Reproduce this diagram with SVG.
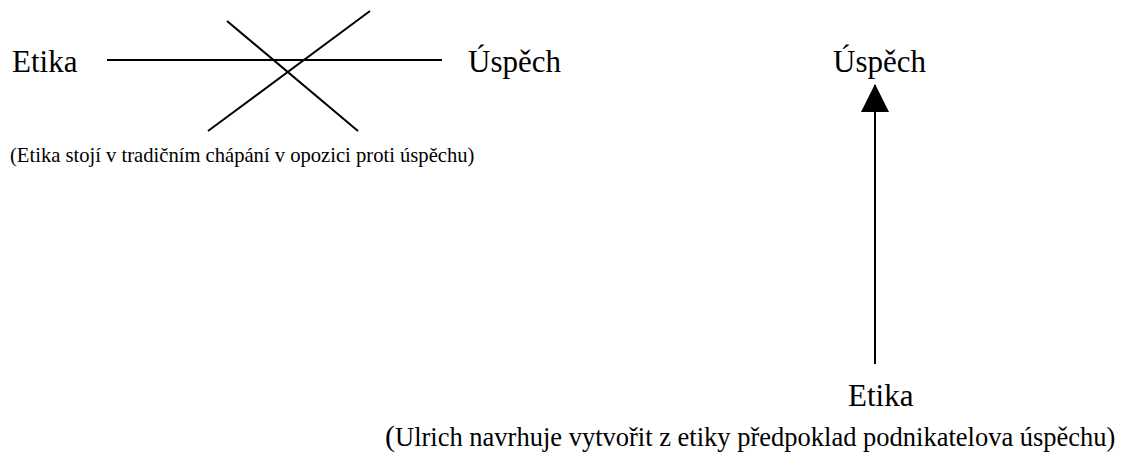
<svg xmlns="http://www.w3.org/2000/svg" width="1148" height="457" viewBox="0 0 1148 457">
<style>
.lbl{font-family:'Liberation Serif','Times New Roman',serif;font-size:31px;fill:#000}
.note{font-family:'Liberation Serif','Times New Roman',serif;font-size:20.6px;fill:#000}
.note2{font-family:'Liberation Serif','Times New Roman',serif;font-size:26.5px;fill:#000}
.ln{stroke:#000;stroke-width:2;fill:none}
</style>
<defs>
<marker id="ah" markerUnits="userSpaceOnUse" markerWidth="28" markerHeight="28" refX="27" refY="14" orient="auto" viewBox="0 0 28 28">
<path d="M0,0 L28,14 L0,28 Z" fill="#000"/>
</marker>
</defs>
<rect width="1148" height="457" fill="#fff"/>
<g id="connectors">
<line class="ln" x1="107" y1="60" x2="442" y2="60"/>
<line class="ln" x1="227" y1="21" x2="358" y2="131"/>
<line class="ln" x1="370" y1="11" x2="208" y2="131"/>
<line class="ln" x1="875" y1="364" x2="875" y2="85" marker-end="url(#ah)"/>
</g>
<g id="n-etika-left"><text class="lbl" x="12" y="72">Etika</text></g>
<g id="n-uspech-left"><text class="lbl" x="468" y="72">Úspěch</text></g>
<g id="n-note-left"><text class="note" x="10" y="162">(Etika stojí v tradičním chápání v opozici proti úspěchu)</text></g>
<g id="n-uspech-right"><text class="lbl" x="833" y="72">Úspěch</text></g>
<g id="n-etika-right"><text class="lbl" x="848" y="406">Etika</text></g>
<g id="n-note-right"><text class="note2" x="385" y="446"><tspan font-size="30px">(</tspan>Ulrich navrhuje vytvořit z etiky předpoklad podnikatelova úspěchu)</text></g>
</svg>
